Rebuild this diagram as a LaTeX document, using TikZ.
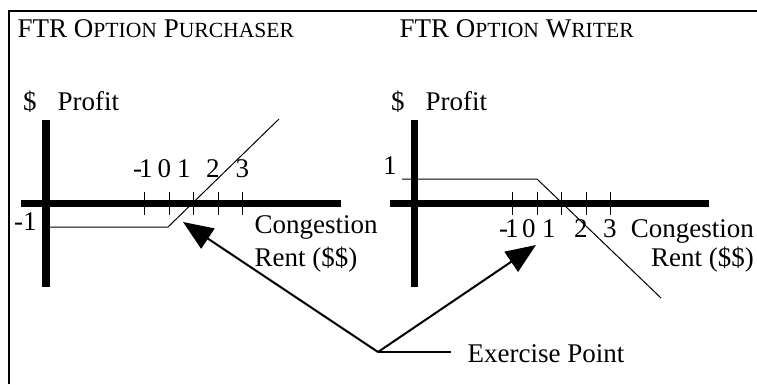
\documentclass[tikz,border=0pt]{standalone}
\usepackage{fontspec}
\setmainfont{Liberation Serif}
\usetikzlibrary{arrows.meta}
\newcommand\mysc[1]{{\fontsize{21.6}{26}\selectfont #1}}
\begin{document}
\begin{tikzpicture}[x=1pt,y=-1pt,
  txt/.style={inner sep=0pt,font=\fontsize{27}{32}\selectfont},
  axisline/.style={line width=7.5pt},
  tickline/.style={line width=0.8pt},
  payoff/.style={line width=1pt},
  pointer/.style={line width=2pt,-{Triangle[length=30pt,width=24pt]}},
  frameline/.style={line width=2pt}]
\useasboundingbox (0,0) rectangle (757,384);
\draw[frameline] (9,384) -- (9,10.5) -- (757,10.5);
% titles
\node[txt,anchor=base west] (t1) at (17.5,37) {FTR O\mysc{PTION} P\mysc{URCHASER}};
\node[txt,anchor=base west] (t2) at (399.5,37) {FTR O\mysc{PTION} W\mysc{RITER}};
% left graph
\node[txt,anchor=base west] (d1) at (23,110) {\$};
\node[txt,anchor=base west] (p1) at (57.5,110) {Profit};
\draw[axisline] (46,120) -- (46,287);
\draw[axisline] (21,203.5) -- (341,203.5);
\foreach \x in {144,169,193,218,242} \draw[tickline] (\x,192) -- (\x,215);
\node[txt,anchor=base west] (ltm1) at (133,177) {-\kern-3pt1};
\node[txt,anchor=base west] (lt0) at (157.5,177) {0};
\node[txt,anchor=base west] (lt1) at (177,177) {1};
\node[txt,anchor=base west] (lt2) at (206,177) {2};
\node[txt,anchor=base west] (lt3) at (235.5,177) {3};
\node[txt,anchor=base west] (lm1) at (14,230) {-1};
\coordinate (ex1) at (168,227);
\draw[payoff] (46,227) -- (ex1) -- (279,119);
\node[txt,anchor=base west] (c1) at (254.5,233) {Congestion};
\node[txt,anchor=base west] (r1) at (254.5,266) {Rent (\$\$)};
% right graph
\node[txt,anchor=base west] (d2) at (391,110) {\$};
\node[txt,anchor=base west] (p2) at (425.5,110) {Profit};
\draw[axisline] (414.5,120) -- (414.5,287);
\draw[axisline] (390,203.5) -- (709,203.5);
\foreach \x in {512,537,561,586,610} \draw[tickline] (\x,192) -- (\x,215);
\node[txt,anchor=base west] (rtm1) at (499,237) {-\kern-3pt1};
\node[txt,anchor=base west] (rt0) at (522,237) {0};
\node[txt,anchor=base west] (rt1) at (542,237) {1};
\node[txt,anchor=base west] (rt2) at (574,237) {2};
\node[txt,anchor=base west] (rt3) at (603,237) {3};
\node[txt,anchor=base west] (rp1) at (383,174) {1};
\coordinate (ex2) at (537,179);
\draw[payoff] (402,179) -- (ex2) -- (661,298);
\node[txt,anchor=base east] (c2) at (754,237) {Congestion};
\node[txt,anchor=base east] (r2) at (754,266) {Rent (\$\$)};
% exercise point
\node[txt,anchor=base west] (ep) at (467.5,362) {Exercise Point};
\coordinate (hub) at (378,352);
\coordinate (epl) at (451,352);
\coordinate (tip1) at (183,222);
\coordinate (tip2) at (536,245);
\draw[line width=2pt] (epl) -- (hub);
\draw[pointer] (hub) -- (tip1);
\draw[pointer] (hub) -- (tip2);
\end{tikzpicture}
\end{document}
